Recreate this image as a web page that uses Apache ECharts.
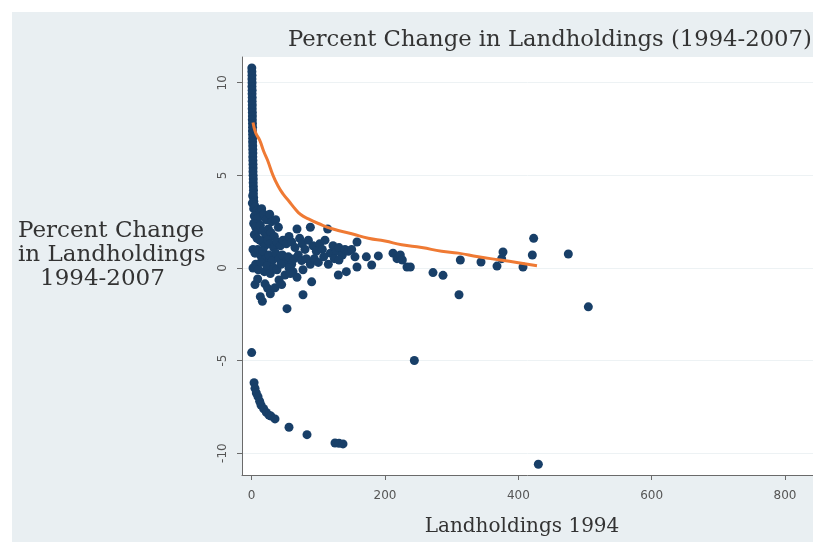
<!DOCTYPE html>
<html>
<head>
<meta charset="utf-8">
<script src="https://cdn.jsdelivr.net/npm/echarts@6/dist/echarts.min.js"></script>
<style>
  html, body { margin:0; padding:0; background:#fff; }
  #chart { position:absolute; left:12px; top:12px; width:801px; height:530px; }
</style>
</head>
<body>
<div id="chart"></div>
<script>
// ===== data =====
const xTicks = [0, 200, 400, 600, 800];
const yTicks = [-10, -5, 0, 5, 10];

// tall column of small holdings
const upperColumn = [
  [0.2,10.8],[0.3,10.6],[0.5,10.4],[0.4,10.2],[0.6,10.0],[0.5,9.8],[0.7,9.6],[0.6,9.4],
  [0.8,9.2],[0.7,9.0],[0.9,8.8],[0.8,8.6],[1.0,8.4],[1.1,8.2],[1.0,8.0],[1.2,7.8],
  [1.3,7.6],[1.2,7.4],[1.4,7.2],[1.5,7.0],[1.4,6.8],[1.6,6.6],[1.7,6.4],[1.8,6.2],
  [1.7,6.0],[1.9,5.8],[2.0,5.6],[2.1,5.4],[2.0,5.2],[2.2,5.0],[2.4,4.8],[2.3,4.6],
  [2.5,4.4],[2.7,4.2],[2.6,4.0],[3.0,3.8],[1.5,3.9],[3.2,3.6],[1.0,3.5],[4,3.4]
];

// main cluster around zero
const mainCluster = [
  [3,3.2],[5,3.3],[8,3.1],[12,3.0],[4,2.8],[7,2.6],[10,2.7],[15,3.2],[18,2.9],[22,2.6],
  [27,2.9],[30,2.5],[36,2.6],[40,2.2],[3,2.4],[6,2.2],[9,2.0],[13,2.3],[17,2.0],[21,1.8],
  [25,2.1],[29,1.9],[34,1.7],[4,1.8],[8,1.6],[12,1.5],[16,1.4],[20,1.2],[24,1.5],[28,1.3],
  [33,1.1],[38,1.4],[43,1.2],[47,1.5],[52,1.3],[56,1.7],[60,1.4],[65,1.1],[68,2.1],[72,1.6],
  [76,1.3],[80,1.0],[85,1.5],[88,2.2],[92,1.2],[97,0.9],[102,1.3],[106,1.0],[110,1.5],[114,2.1],
  [118,0.8],[122,1.2],[127,0.9],[131,1.1],[136,0.7],[140,1.0],[145,0.9],[150,1.0],[155,0.6],[158,1.4],
  [2,1.0],[5,0.8],[9,1.0],[13,0.7],[17,0.9],[21,0.5],[26,0.7],[31,0.4],[36,0.8],[41,0.5],
  [46,0.7],[50,0.3],[55,0.6],[60,0.2],[64,0.5],[70,0.7],[75,0.4],[82,0.5],[88,0.2],[94,0.5],
  [100,0.3],[108,0.6],[115,0.2],[124,0.5],[131,0.43],[142,-0.2],[130,-0.38],[158,0.05],
  [2,0.0],[6,0.2],[10,-0.1],[14,0.3],[19,-0.2],[23,0.1],[28,-0.3],[33,0.0],[38,-0.1],[44,0.2],
  [50,-0.38],[56,0.0],[62,-0.2],[68,-0.5],[77,-0.1],[90,-0.75],
  [5,-0.9],[9,-0.6],[13,-1.55],[16,-1.8],[20,-0.86],[24,-1.1],[28,-1.4],[35,-1.07],[41,-0.65],
  [45,-0.9],[53,-2.2],[77,-1.45],[58,-0.3]
];

// larger holdings, scattered to the right
const rightPoints = [
  [172,0.6],[180,0.16],[190,0.65],[212,0.8],[218,0.5],[223,0.7],[226,0.43],[233,0.05],
  [238,0.05],[272,-0.25],[287,-0.4],[311,-1.45],[313,0.43],[344,0.32],[368,0.1],[375,0.5],
  [377,0.86],[407,0.05],[421,0.7],[423,1.6],[475,0.75],[505,-2.1]
];

// lower arc of losses
const lowerArc = [
  [0,-4.57],[3.6,-6.2],[5,-6.5],[7,-6.75],[9.5,-6.95],[12,-7.2],[14,-7.4],[18,-7.6],
  [22,-7.8],[26,-7.95],[29,-8.0],[35,-8.15],[56,-8.6],[83,-9.0],[125,-9.45],[131,-9.47],
  [137,-9.5],[244,-5.0],[430,-10.6]
];

// fitted curve
const fitX = [2,6,12,18,24,32,40,47,56,65,73,85,100,122,150,175,200,225,255,285,310,340,373,400,428];
const fitY = [7.85,7.3,6.9,6.3,5.8,5.0,4.4,4.0,3.6,3.2,2.9,2.65,2.4,2.1,1.85,1.6,1.45,1.25,1.1,0.9,0.8,0.6,0.43,0.28,0.12];

const dotColor  = '#183f68';
const lineColor = '#ef7a34';
const textColor = '#333';

const chart = echarts.init(document.getElementById('chart'), null, { renderer:'canvas' });

const allDots = upperColumn.concat(mainCluster, rightPoints, lowerArc);

const option = {
  backgroundColor: '#e9eff2',
  animation: false,
  grid: { left: 230, right: 0, top: 45, bottom: 67, show: true, backgroundColor: '#fff', borderWidth: 0 },
  xAxis: {
    type: 'value', min: -14.5, max: 842,
    axisLine: { show: true, onZero: false, lineStyle: { color: '#6a6a6a', width: 1 } },
    axisTick: { show: true, length: 5, customValues: xTicks, lineStyle: { color: '#6a6a6a' } },
    axisLabel: { customValues: xTicks, color: '#555', fontSize: 12, fontFamily: 'DejaVu Sans', margin: 15 },
    splitLine: { show: false }
  },
  yAxis: {
    type: 'value', min: -11.18, max: 11.39,
    axisLine: { show: true, onZero: false, lineStyle: { color: '#6a6a6a', width: 1 } },
    axisTick: { show: true, length: 5, customValues: yTicks, lineStyle: { color: '#6a6a6a' } },
    axisLabel: { customValues: yTicks, rotate: 90, color: '#555', fontSize: 12, fontFamily: 'DejaVu Sans', margin: 13 },
    splitLine: { show: true, lineStyle: { color: '#edf2f4', width: 1 } }
  },
  series: [
    {
      type: 'scatter',
      data: allDots,
      symbolSize: 9,
      itemStyle: { color: dotColor, opacity: 1 }
    },
    {
      type: 'line',
      data: fitX.map((x, i) => [x, fitY[i]]),
      smooth: true,
      showSymbol: false,
      lineStyle: { color: lineColor, width: 3 }
    }
  ],
  graphic: [
    { type:'text', x: 276, y: 28, style: { text: 'Percent Change in Landholdings (1994-2007)', font: '22.7px "DejaVu Serif"', fill: textColor, verticalAlign: 'middle' } },
    { type:'text', x: 6, y: 219, style: { text: 'Percent Change', font: '23px "DejaVu Serif"', fill: textColor, verticalAlign: 'middle' } },
    { type:'text', x: 6, y: 243, style: { text: 'in Landholdings', font: '23px "DejaVu Serif"', fill: textColor, verticalAlign: 'middle' } },
    { type:'text', x: 28, y: 267, style: { text: '1994-2007', font: '23px "DejaVu Serif"', fill: textColor, verticalAlign: 'middle' } },
    { type:'text', x: 510, y: 515, style: { text: 'Landholdings 1994', font: '20px "DejaVu Serif"', fill: textColor, align: 'center', verticalAlign: 'middle' } }
  ]
};

chart.setOption(option);
</script>
</body>
</html>
